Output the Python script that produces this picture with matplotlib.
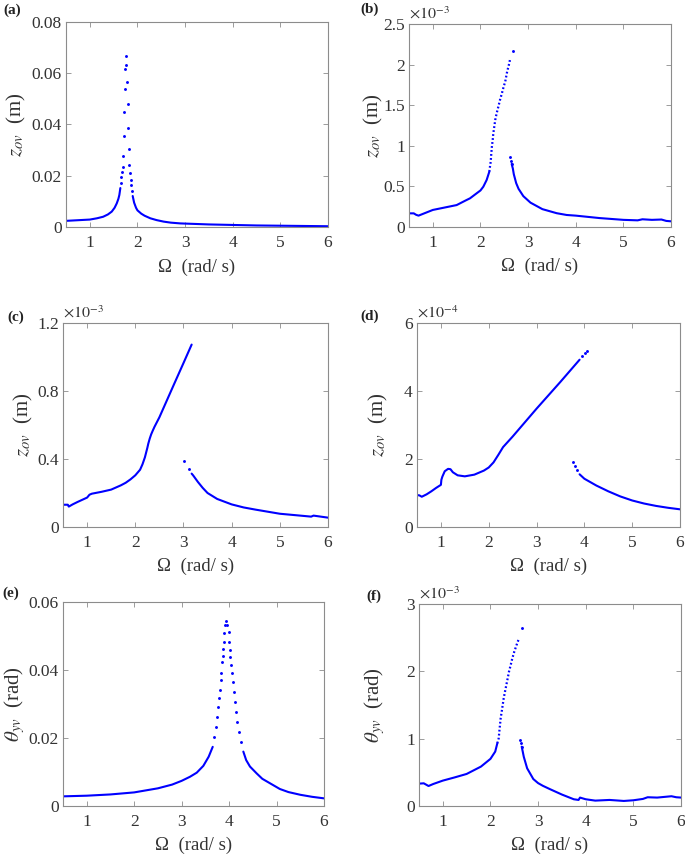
import numpy as np
import matplotlib
matplotlib.use('Agg')
import matplotlib.pyplot as plt

plt.rcParams['font.family'] = ['Liberation Serif', 'DejaVu Serif']
plt.rcParams['mathtext.fontset'] = 'stix'

BLUE = '#0000ff'
FRAME = '#8c8c8c'
TEXT = '#333333'

# ---- (a) z_ov, m ----
a_l_x = [0.5, 0.8, 1.0, 1.15, 1.28, 1.38, 1.46, 1.52, 1.565, 1.6, 1.62, 1.641]
a_l_y = [0.0024, 0.0027, 0.0029, 0.0034, 0.0040, 0.0049, 0.0060, 0.0075, 0.0092, 0.0110,
         0.0125, 0.0152]
a_d_x = [1.649, 1.655, 1.676, 1.691, 1.697, 1.712, 1.725, 1.733, 1.74, 1.754,
         1.767, 1.78, 1.796, 1.80, 1.817, 1.83, 1.845, 1.859, 1.872, 1.887]
a_d_y = [0.0173, 0.0194, 0.0215, 0.0234, 0.0276, 0.0355, 0.0449, 0.0537, 0.0617, 0.0667,
         0.0632, 0.0567, 0.0480, 0.0385, 0.0303, 0.0241, 0.0212, 0.0183, 0.0163, 0.0142]
a_r_x = [1.90, 1.93, 1.97, 2.0, 2.08, 2.15, 2.27, 2.4, 2.55, 2.7, 2.9, 3.2, 3.5, 4.0, 4.5,
         5.0, 5.5, 6.0]
a_r_y = [0.0121, 0.0095, 0.0075, 0.0065, 0.0052, 0.0044, 0.0034, 0.0027, 0.0021, 0.0017,
         0.0014, 0.0012, 0.0010, 0.0008, 0.0006, 0.0005, 0.0004, 0.0003]

# ---- (b) z_ov, x1e-3 m ----
b_l_x = [0.5, 0.6, 0.65, 0.7, 0.85, 1.0, 1.25, 1.5, 1.7, 1.78, 1.92, 2.0, 2.06, 2.13, 2.186]
b_l_y = [0.168, 0.168, 0.15, 0.14, 0.175, 0.21, 0.24, 0.27, 0.33, 0.353, 0.415, 0.45,
         0.496, 0.579, 0.681]
b_u_x = [2.186, 2.20, 2.215, 2.228, 2.24, 2.257, 2.27, 2.29, 2.31, 2.34, 2.375, 2.41,
         2.45, 2.487, 2.52, 2.56, 2.605, 2.62]
b_u_y = [0.681, 0.743, 0.804, 0.907, 0.989, 1.071, 1.154, 1.235, 1.318, 1.40, 1.48, 1.564,
         1.646, 1.728, 1.79, 1.913, 2.016, 2.06]
b_d_x = [2.676, 2.62, 2.64, 2.655]
b_d_y = [2.171, 0.858, 0.817, 0.776]
b_r_x = [2.655, 2.68, 2.7, 2.75, 2.8, 2.9, 3.05, 3.3, 3.6, 3.81, 4.0, 4.5, 5.0, 5.3, 5.4,
         5.6, 5.8, 5.9, 6.0]
b_r_y = [0.776, 0.72, 0.65, 0.54, 0.47, 0.38, 0.30, 0.22, 0.17, 0.148, 0.14, 0.11, 0.088,
         0.082, 0.095, 0.088, 0.092, 0.075, 0.07]

# ---- (c) z_ov, x1e-3 m ----
c_l_x = [0.5, 0.6, 0.62, 0.7, 0.8, 1.0, 1.05, 1.1, 1.3, 1.5, 1.7, 1.8, 1.9, 2.0, 2.1, 2.15,
         2.2, 2.25, 2.27, 2.3, 2.33, 2.36, 2.4, 2.5, 2.6, 2.8, 3.0, 3.17]
c_l_y = [0.131, 0.131, 0.12, 0.133, 0.147, 0.173, 0.19, 0.196, 0.207, 0.22, 0.245, 0.26,
         0.28, 0.304, 0.337, 0.369, 0.41, 0.465, 0.49, 0.52, 0.545, 0.565, 0.59, 0.645,
         0.709, 0.837, 0.964, 1.073]
c_d_x = [3.01, 3.107]
c_d_y = [0.386, 0.343]
c_r_x = [3.17, 3.2, 3.3, 3.4, 3.5, 3.7, 4.0, 4.25, 4.5, 5.0, 5.5, 5.65, 5.7, 6.0]
c_r_y = [0.314, 0.304, 0.265, 0.23, 0.20, 0.165, 0.133, 0.115, 0.102, 0.078, 0.065, 0.061,
         0.067, 0.055]

# ---- (d) z_ov, x1e-4 m ----
d_l_x = [0.5, 0.55, 0.6, 0.7, 0.8, 0.9, 1.0, 1.01, 1.03, 1.08, 1.15, 1.2, 1.25, 1.35, 1.5,
         1.7, 1.9, 2.0, 2.1, 2.2, 2.3, 2.5, 3.0, 3.5, 3.9]
d_l_y = [0.94, 0.93, 0.89, 0.96, 1.05, 1.15, 1.24, 1.39, 1.48, 1.64, 1.71, 1.70, 1.61, 1.52,
         1.49, 1.54, 1.66, 1.75, 1.90, 2.12, 2.35, 2.66, 3.48, 4.27, 4.92]
d_d_x = [3.947, 4.003, 4.06, 3.76, 3.81, 3.85]
d_d_y = [5.04, 5.12, 5.18, 1.92, 1.78, 1.68]
d_r_x = [3.9, 4.0, 4.25, 4.5, 4.75, 5.0, 5.25, 5.5, 5.75, 6.0]
d_r_y = [1.55, 1.42, 1.22, 1.05, 0.90, 0.78, 0.69, 0.62, 0.565, 0.52]

# ---- (e) theta_yv, rad ----
e_l_x = [0.5, 1.0, 1.5, 2.0, 2.5, 2.8, 3.0, 3.176, 3.318, 3.457, 3.57, 3.655]
e_l_y = [0.00284, 0.00303, 0.0034, 0.0040, 0.0052, 0.0063, 0.0074, 0.0086, 0.0098, 0.0118,
         0.0145, 0.0174]
e_d_x = [3.689, 3.724, 3.752, 3.773, 3.794, 3.81, 3.823, 3.836, 3.85, 3.866, 3.872, 3.887,
         3.893, 3.908, 3.935, 3.963, 3.99, 3.998, 4.013, 4.026, 4.047, 4.06, 4.077, 4.097,
         4.118, 4.146, 4.174, 4.209, 4.252]
e_d_y = [0.0204, 0.0233, 0.0263, 0.0292, 0.0317, 0.0341, 0.0371, 0.0390, 0.0424, 0.0442,
         0.0462, 0.0481, 0.0508, 0.0532, 0.0545, 0.0532, 0.0513, 0.0481, 0.0459, 0.0439,
         0.0415, 0.0390, 0.0366, 0.0336, 0.0307, 0.0277, 0.0248, 0.0219, 0.0189]
e_r_x = [4.30, 4.36, 4.44, 4.58, 4.7, 4.86, 5.07, 5.25, 5.5, 5.75, 6.0]
e_r_y = [0.0160, 0.0135, 0.0116, 0.0096, 0.0080, 0.0067, 0.0050, 0.0041, 0.0033, 0.0027,
         0.00225]

# ---- (f) theta_yv, x1e-3 rad ----
f_l_x = [0.5, 0.6, 0.65, 0.7, 0.8, 1.0, 1.25, 1.5, 1.8, 2.0, 2.1, 2.144]
f_l_y = [0.332, 0.337, 0.317, 0.297, 0.327, 0.377, 0.425, 0.476, 0.585, 0.70, 0.808, 0.931]
f_u_x = [2.144, 2.173, 2.186, 2.20, 2.214, 2.236, 2.257, 2.278, 2.305, 2.333, 2.362, 2.389,
         2.425, 2.459, 2.50, 2.536, 2.572, 2.605]
f_u_y = [0.931, 1.005, 1.104, 1.203, 1.302, 1.40, 1.50, 1.60, 1.698, 1.797, 1.897, 1.995,
         2.094, 2.193, 2.292, 2.366, 2.44, 2.49]
f_d_x = [2.668, 2.62, 2.641, 2.656]
f_d_y = [2.639, 0.98, 0.931, 0.881]
f_r_x = [2.656, 2.68, 2.7, 2.77, 2.9, 3.0, 3.1, 3.25, 3.5, 3.75, 3.85, 3.88, 4.0, 4.2, 4.5,
         4.8, 5.0, 5.2, 5.3, 5.5, 5.8, 5.9, 6.0]
f_r_y = [0.881, 0.80, 0.73, 0.56, 0.40, 0.34, 0.30, 0.25, 0.17, 0.10, 0.09, 0.125, 0.10,
         0.08, 0.09, 0.075, 0.085, 0.105, 0.13, 0.125, 0.145, 0.13, 0.125]

X_TICKS = [1, 2, 3, 4, 5, 6]
Z_LABEL = r'$z_{ov}$  (m)'
T_LABEL = r'$\theta_{yv}$  (rad)'

W, H = 685, 855


def make_axes(fig, L, R, T, B):
    return fig.add_axes([L / W, 1 - B / H, (R - L) / W, (B - T) / H])


def style(ax, yticks, ylim, ylabel, ylab_x, letter, letter_xy, scale=None):
    ax.set_xlim(0.5, 6)
    ax.set_ylim(*ylim)
    ax.set_xticks(X_TICKS)
    ax.set_yticks(yticks)
    ax.set_yticklabels(['%g' % t for t in yticks])
    ax.tick_params(direction='in', top=True, right=True, length=3.5, width=0.6,
                   color=FRAME, labelcolor=TEXT, labelsize=12.5)
    ax.tick_params(axis='x', pad=6)
    ax.tick_params(axis='y', pad=3)
    for s in ax.spines.values():
        s.set_color(FRAME)
        s.set_linewidth(0.8)
    ax.set_xlabel('Ω  (rad/ s)', fontsize=13.5, color=TEXT)
    ax.xaxis.set_label_coords(0.5, -0.195)
    ax.xaxis.label.set_va('center')
    ax.set_ylabel(ylabel, fontsize=15, color=TEXT)
    ax.yaxis.set_label_coords(ylab_x, 0.5)
    ax.yaxis.label.set_va('center')
    if scale is not None:
        ax.text(0.0, 1.005, r'$\times10^{%d}$' % scale, transform=ax.transAxes,
                ha='left', va='bottom', fontsize=11.5, color=TEXT)
    fig = ax.figure
    fig.text(letter_xy[0] / W, 1 - letter_xy[1] / H, letter, fontsize=11,
             fontweight='bold', ha='left', va='center', color='#222222')


def solid(ax, x, y):
    ax.plot(x, y, '-', color=BLUE, lw=1.5, solid_capstyle='round', solid_joinstyle='round')


def dots(ax, x, y, ms=2.1):
    ax.plot(x, y, 'o', color=BLUE, ms=ms, mew=0, linestyle='none')


def dotted(ax, x, y):
    ax.plot(x, y, color=BLUE, lw=1.6, linestyle=(0, (0.8, 1.0)))


def main():
    fig = plt.figure(figsize=(6.85, 8.55), dpi=100)

    ax = make_axes(fig, 66, 328, 22, 227)
    solid(ax, a_l_x, a_l_y)
    dots(ax, a_d_x, a_d_y)
    solid(ax, a_r_x, a_r_y)
    style(ax, [0, 0.02, 0.04, 0.06, 0.08], (0, 0.08), Z_LABEL, -0.19, '(a)', (3, 10))

    ax = make_axes(fig, 409, 671, 24, 227)
    solid(ax, b_l_x, b_l_y)
    dotted(ax, b_u_x, b_u_y)
    dots(ax, b_d_x, b_d_y)
    solid(ax, b_r_x, b_r_y)
    style(ax, [0, 0.5, 1, 1.5, 2, 2.5], (0, 2.5), Z_LABEL, -0.137, '(b)', (360, 9), -3)

    ax = make_axes(fig, 63, 328, 323, 527)
    solid(ax, c_l_x, c_l_y)
    dots(ax, c_d_x, c_d_y)
    solid(ax, c_r_x, c_r_y)
    style(ax, [0, 0.4, 0.8, 1.2], (0, 1.2), Z_LABEL, -0.151, '(c)', (7, 317), -3)

    ax = make_axes(fig, 417, 680, 323, 527)
    solid(ax, d_l_x, d_l_y)
    dots(ax, d_d_x, d_d_y)
    solid(ax, d_r_x, d_r_y)
    style(ax, [0, 2, 4, 6], (0, 6), Z_LABEL, -0.148, '(d)', (360, 316), -4)

    ax = make_axes(fig, 63, 324, 602, 806)
    solid(ax, e_l_x, e_l_y)
    dots(ax, e_d_x, e_d_y)
    solid(ax, e_r_x, e_r_y)
    style(ax, [0, 0.02, 0.04, 0.06], (0, 0.06), T_LABEL, -0.185, '(e)', (2, 593))

    ax = make_axes(fig, 419, 681, 604, 806)
    solid(ax, f_l_x, f_l_y)
    dotted(ax, f_u_x, f_u_y)
    dots(ax, f_d_x, f_d_y)
    solid(ax, f_r_x, f_r_y)
    style(ax, [0, 1, 2, 3], (0, 3), T_LABEL, -0.168, '(f)', (366, 596), -3)

    fig.savefig('out.png', dpi=100)


if __name__ == '__main__':
    main()
